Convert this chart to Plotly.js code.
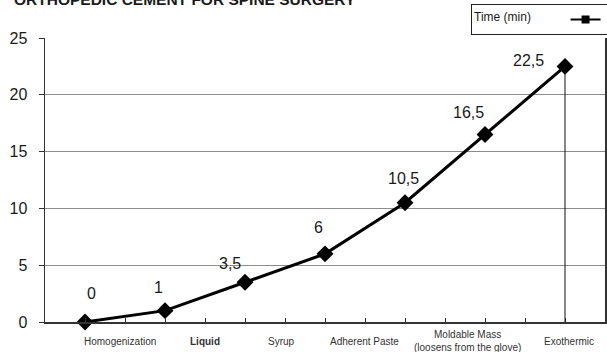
<!DOCTYPE html>
<html>
<head>
<meta charset="utf-8">
<script src="https://cdn.plot.ly/plotly-3.0.1.min.js"></script>
<style>
  html, body { margin: 0; padding: 0; background: #fff; }
  #chart { width: 607px; height: 352px; }
</style>
</head>
<body>
<div id="chart"></div>
<script>
// Setting time of orthopedic cement, by handling stage
const chartTitle = 'ORTHOPEDIC CEMENT FOR SPINE SURGERY';
const seriesName = 'Time (min)';
const stageLabels = ['Homogenization', '<b>Liquid</b>', 'Syrup', 'Adherent Paste',
                     'Moldable Mass<br>(loosens from the glove)', 'Exothermic'];
const stageLabelPos = [1.875, 4.0, 5.9, 7.98, 10.55, 13.1];
const pointPos = [1, 3, 5, 7, 9, 11, 13];
const timeMin = [0, 1, 3.5, 6, 10.5, 16.5, 22.5];
const yTickVals = [0, 5, 10, 15, 20, 25];

// pixel offsets for the value labels (x, y)
const labelShiftX = [6, -7, -15, -7, -2, -17, -37];
const labelShiftY = [29, 23, 19, 26, 24, 22, 6];

const FONT = 'Liberation Sans, Arial, sans-serif';
const fmt = v => String(v).replace('.', ',');
const pad = n => '&nbsp;'.repeat(n);

const traces = [
  {
    x: pointPos, y: timeMin, type: 'scatter', mode: 'lines+markers',
    line: { color: '#000', width: 3 },
    marker: { symbol: 'diamond', size: 13, color: '#000' },
    showlegend: false, hoverinfo: 'skip', cliponaxis: false
  },
  {
    // legend sample only
    x: [null], y: [null], type: 'scatter', mode: 'lines+markers', name: ' ',
    line: { color: '#000', width: 2 },
    marker: { symbol: 'square', size: 8, color: '#000' },
    showlegend: true
  }
];

const annotations = [];
timeMin.forEach((v, i) => {
  annotations.push({
    x: pointPos[i], y: v, xref: 'x', yref: 'y', text: fmt(v), showarrow: false,
    xshift: labelShiftX[i], yshift: labelShiftY[i],
    xanchor: 'center', yanchor: 'middle',
    font: { family: FONT, size: 16, color: '#1a1a1a' }
  });
});
stageLabels.forEach((s, i) => {
  annotations.push({
    x: stageLabelPos[i], y: 0, xref: 'x', yref: 'paper', text: s, showarrow: false,
    yshift: -19, xanchor: 'center', yanchor: 'middle',
    font: { family: FONT, size: 10, color: '#333' }
  });
});

const last = timeMin.length - 1;
const layout = {
  width: 607, height: 352,
  margin: { l: 45, r: 2, t: 38, b: 30, autoexpand: false },
  paper_bgcolor: '#fff', plot_bgcolor: '#fff',
  font: { family: FONT, color: '#1a1a1a' },
  title: {
    text: '<b>' + chartTitle + '</b>',
    x: 14 / 607, xanchor: 'left', xref: 'container',
    y: 1, yanchor: 'middle', yref: 'container',
    pad: { t: 0, b: 0 },
    font: { family: FONT, size: 15.5, color: '#1a1a1a' }
  },
  xaxis: {
    range: [0, 14], dtick: 1, tick0: 0,
    showgrid: false, zeroline: false, showticklabels: false,
    ticks: 'inside', ticklen: 4, tickcolor: '#333', tickwidth: 1,
    showline: true, linecolor: '#333', linewidth: 1.5
  },
  yaxis: {
    range: [0, 25], tickvals: yTickVals,
    showgrid: true, gridcolor: '#8c8c8c', gridwidth: 1, zeroline: false,
    ticks: 'outside', ticklen: 5, tickcolor: '#333',
    ticklabelstandoff: 8,
    showline: true, linecolor: '#333', linewidth: 1.5, mirror: true,
    tickfont: { family: FONT, size: 16, color: '#1a1a1a' }
  },
  showlegend: true,
  legend: {
    x: (471 - 45) / 560, xanchor: 'left', y: 1 + 34 / 284, yanchor: 'top',
    orientation: 'h',
    bordercolor: '#222', borderwidth: 1, bgcolor: '#fff',
    title: { text: seriesName + pad(8), side: 'left', font: { family: FONT, size: 12, color: '#1a1a1a' } },
    font: { family: FONT, size: 12 },
    itemwidth: 30
  },
  shapes: [{
    // drop line from the exothermic peak to the axis
    type: 'line', xref: 'x', yref: 'y',
    x0: pointPos[last], x1: pointPos[last], y0: 0, y1: timeMin[last],
    line: { color: '#111', width: 1 }
  }],
  annotations: annotations
};

Plotly.newPlot('chart', traces, layout, { displayModeBar: false, staticPlot: true });
</script>
</body>
</html>
